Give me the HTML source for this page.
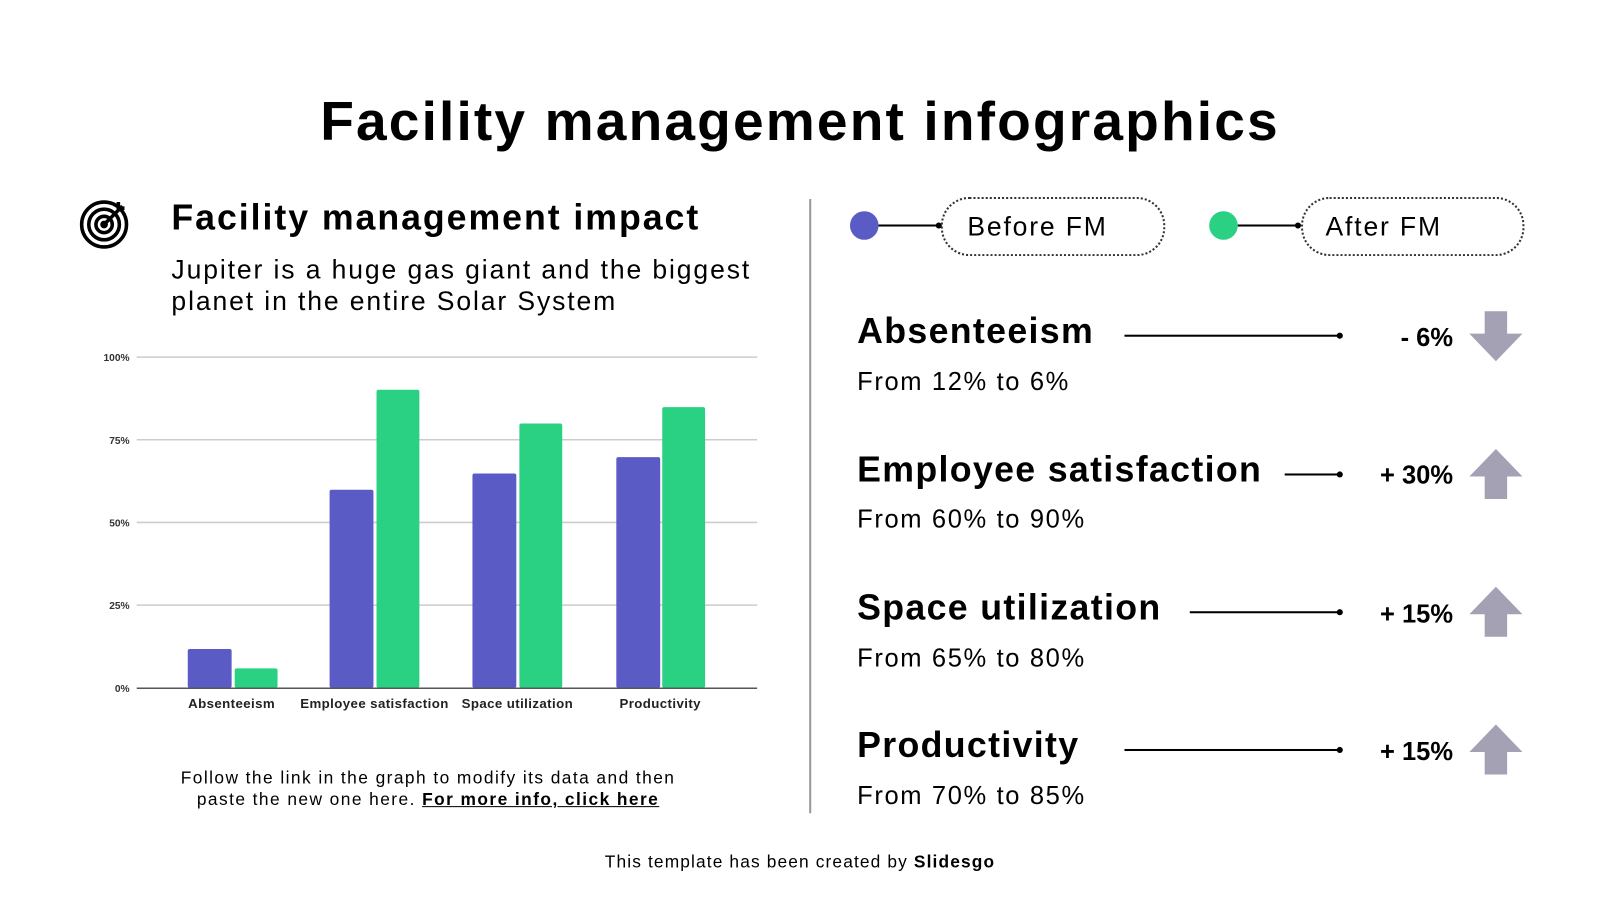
<!DOCTYPE html><html><head><style>
body{margin:0;width:1600px;height:900px;background:#fff;font-family:"Liberation Sans",sans-serif;color:#000;position:relative;overflow:hidden}
#w{position:absolute;left:0;top:0;width:1568px;height:882px;transform:scale(1.0204);transform-origin:0 0}
.a{position:absolute;white-space:nowrap}
.t{font-size:35px;font-weight:bold;line-height:1;letter-spacing:1.3px}
.s{font-size:25px;line-height:1;letter-spacing:1.6px}
.v{font-size:25px;font-weight:bold;text-align:right;width:120px;left:1304px}
.ln{position:absolute;height:2px;background:#000}
.ln:after{content:"";position:absolute;right:-3px;top:-2px;width:6px;height:6px;border-radius:50%;background:#000}
</style></head><body><div id="w">
<div class="a" style="left:0;width:1568px;text-align:center;top:92px;font-size:54px;font-weight:bold;line-height:1;letter-spacing:2.1px">Facility management infographics</div>
<svg class="a" style="left:78px;top:194px" width="52" height="52" viewBox="0 0 52 52" fill="none" stroke="#000" stroke-width="3.5"><circle cx="24" cy="26" r="22"/><circle cx="24" cy="26" r="15"/><circle cx="24" cy="26" r="8"/><circle cx="24" cy="26" r="2" fill="#000"/><path d="M24 26 L42 8 M38 4 L38 10 L44 10"/></svg>
<div class="a" style="left:168px;top:196px;font-size:35px;font-weight:bold;line-height:1;letter-spacing:1.9px">Facility management impact</div>
<div class="a" style="left:168px;top:249px;font-size:26px;line-height:31px;letter-spacing:1.85px">Jupiter is a huge gas giant and the biggest<br>planet in the entire Solar System</div>
<svg class="a" style="left:0;top:0" width="800" height="720">
<g stroke="#ccc" stroke-width="1.5"><line x1="134" y1="350" x2="742" y2="350"/><line x1="134" y1="431" x2="742" y2="431"/><line x1="134" y1="512" x2="742" y2="512"/><line x1="134" y1="593" x2="742" y2="593"/></g>
<g font-size="10" font-weight="bold" fill="#333" text-anchor="end" font-family="Liberation Sans"><text x="127" y="354">100%</text><text x="127" y="435">75%</text><text x="127" y="516">50%</text><text x="127" y="597">25%</text><text x="127" y="678">0%</text></g>
<g fill="#5b5bc6"><rect x="184" y="636" width="43" height="38" rx="2"/><rect x="323" y="480" width="43" height="194" rx="2"/><rect x="463" y="464" width="43" height="210" rx="2"/><rect x="604" y="448" width="43" height="226" rx="2"/></g>
<g fill="#2ad183"><rect x="230" y="655" width="42" height="19" rx="2"/><rect x="369" y="382" width="42" height="292" rx="2"/><rect x="509" y="415" width="42" height="259" rx="2"/><rect x="649" y="399" width="42" height="275" rx="2"/></g>
<line x1="134" y1="674.5" x2="742" y2="674.5" stroke="#555" stroke-width="1.5"/>
<g font-size="13" font-weight="bold" fill="#222" text-anchor="middle" font-family="Liberation Sans" letter-spacing="0.4"><text x="227" y="694">Absenteeism</text><text x="367" y="694">Employee satisfaction</text><text x="507" y="694">Space utilization</text><text x="647" y="694">Productivity</text></g>
<line x1="102" y1="729.5" x2="747" y2="729.5" stroke="#999" stroke-width="1.5"/>
</svg>
<div class="a" style="left:102px;width:635px;text-align:center;top:752px;font-size:17px;line-height:21px;letter-spacing:1.4px">Follow the link in the graph to modify its data and then<br>paste the new one here. <b><u>For more info, click here</u></b></div>
<div class="a" style="left:793px;top:195px;width:1.5px;height:602px;background:#999"></div>
<div class="a" style="left:833px;top:207px;width:28px;height:28px;border-radius:50%;background:#5b5bc6"></div>
<div class="ln" style="left:861px;top:220px;width:59px"></div>
<div class="a" style="left:922px;top:193px;width:216px;height:54px;border:2px dotted #333;border-radius:28px;font-size:26px;line-height:54px;text-indent:24px;letter-spacing:1.8px">Before FM</div>
<div class="a" style="left:1185px;top:207px;width:28px;height:28px;border-radius:50%;background:#2ad183"></div>
<div class="ln" style="left:1213px;top:220px;width:59px"></div>
<div class="a" style="left:1275px;top:193px;width:215px;height:54px;border:2px dotted #333;border-radius:28px;font-size:26px;line-height:54px;text-indent:22px;letter-spacing:1.8px">After FM</div>
<div class="a t" style="left:840px;top:307px">Absenteeism</div>
<div class="ln" style="left:1102px;top:328px;width:211px"></div>
<div class="a v" style="top:317px">- 6%</div>
<div class="a s" style="left:840px;top:362px">From 12% to 6%</div>
<div class="a t" style="left:840px;top:443px">Employee satisfaction</div>
<div class="ln" style="left:1259px;top:464px;width:54px"></div>
<div class="a v" style="top:452px">+ 30%</div>
<div class="a s" style="left:840px;top:497px">From 60% to 90%</div>
<div class="a t" style="left:840px;top:578px">Space utilization</div>
<div class="ln" style="left:1166px;top:599px;width:147px"></div>
<div class="a v" style="top:588px">+ 15%</div>
<div class="a s" style="left:840px;top:633px">From 65% to 80%</div>
<div class="a t" style="left:840px;top:713px">Productivity</div>
<div class="ln" style="left:1102px;top:734px;width:211px"></div>
<div class="a v" style="top:723px">+ 15%</div>
<div class="a s" style="left:840px;top:768px">From 70% to 85%</div>
<svg class="a" style="left:1438px;top:300px" width="56" height="470" fill="#a3a1b3">
<path d="M15 5 H37 V27 H52 L26 54 L0 27 H15Z" transform="translate(2,0)"/>
<path d="M15 54 H37 V32 H52 L26 5 L0 32 H15Z" transform="translate(2,135)"/>
<path d="M15 54 H37 V32 H52 L26 5 L0 32 H15Z" transform="translate(2,270)"/>
<path d="M15 54 H37 V32 H52 L26 5 L0 32 H15Z" transform="translate(2,405)"/>
</svg>
<div class="a" style="left:0;width:1568px;text-align:center;top:835px;font-size:17px;letter-spacing:1.1px">This template has been created by <b>Slidesgo</b></div>
</div></body></html>
